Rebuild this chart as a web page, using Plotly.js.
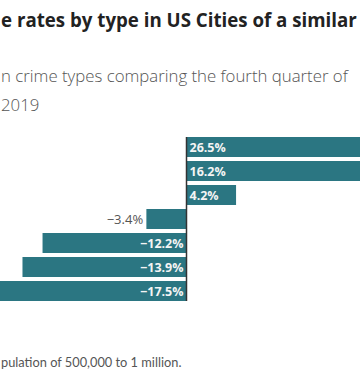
<!DOCTYPE html>
<html>
<head>
<meta charset="utf-8">
<script src="https://cdn.plot.ly/plotly-3.0.1.min.js"></script>
<style>
html,body{margin:0;padding:0;background:#fff;overflow:hidden;}
#chart{width:360px;height:381px;}
</style>
</head>
<body>
<div id="chart"></div>
<script>
var categories = ["Motor vehicle theft", "Homicide", "Aggravated assault", "Larceny", "Burglary", "Robbery", "Rape"];
var values = [26.5, 16.2, 4.2, -3.4, -12.2, -13.9, -17.5];
var labels = ["26.5%", "16.2%", "4.2%", "\u22123.4%", "\u221212.2%", "\u221213.9%", "\u221217.5%"];
var titleText = "e rates by type in US Cities of a similar";
var subtitleLine1 = "n crime types comparing the fourth quarter of";
var subtitleLine2 = "2019";
var noteText = "pulation of 500,000 to 1 million.";

var positions = values.map(function(v){ return Math.abs(v) < 5 && v < 0 ? "outside" : "inside"; });

var trace = {
  type: "bar",
  orientation: "h",
  y: categories,
  x: values,
  text: labels,
  textposition: positions,
  insidetextanchor: "start",
  constraintext: "none",
  insidetextfont: {family: "Open Sans, sans-serif", size: 12.5, color: "#f4f4f4", weight: 700},
  outsidetextfont: {family: "Open Sans, sans-serif", size: 13, color: "#555555", weight: 400},
  marker: {color: "#2b7682", line: {width: 0}},
  hoverinfo: "none",
  cliponaxis: true
};

var layout = {
  width: 360,
  height: 381,
  margin: {l: 0, r: 0, t: 135, b: 78, pad: 0},
  paper_bgcolor: "#ffffff",
  plot_bgcolor: "#ffffff",
  showlegend: false,
  bargap: 0.167,
  xaxis: {range: [-186.5/11.8, 173.5/11.8], showgrid: false, zeroline: false, showticklabels: false, ticks: "", fixedrange: true},
  yaxis: {autorange: "reversed", showgrid: false, zeroline: false, showticklabels: false, ticks: "", fixedrange: true},
  shapes: [{type: "line", xref: "x", yref: "paper", x0: 0, x1: 0, y0: 2/168, y1: 166/168, layer: "above", line: {color: "#333333", width: 1.5}}],
  annotations: [
    {xref: "paper", yref: "paper", x: 0, y: (303-19)/168, xanchor: "left", yanchor: "middle", showarrow: false, borderpad: 0, align: "left",
     text: titleText, font: {family: "Open Sans, sans-serif", size: 18.7, color: "#222222", weight: 700}},
    {xref: "paper", yref: "paper", x: 0, y: (303-76)/168, xanchor: "left", yanchor: "middle", showarrow: false, borderpad: 0, align: "left",
     text: subtitleLine1, font: {family: "Open Sans, sans-serif", size: 16.8, color: "#555555", weight: 300}},
    {xref: "paper", yref: "paper", x: 0, y: (303-104)/168, xanchor: "left", yanchor: "middle", showarrow: false, borderpad: 0, align: "left",
     text: subtitleLine2, font: {family: "Open Sans, sans-serif", size: 16.8, color: "#555555", weight: 300}},
    {xref: "paper", yref: "paper", x: 0, y: (303-362)/168, xanchor: "left", yanchor: "middle", showarrow: false, borderpad: 0, align: "left",
     text: noteText, font: {family: "Lato, sans-serif", size: 12.8, color: "#555555"}}
  ]
};

Plotly.newPlot("chart", [trace], layout, {displayModeBar: false, staticPlot: true});
</script>
</body>
</html>
